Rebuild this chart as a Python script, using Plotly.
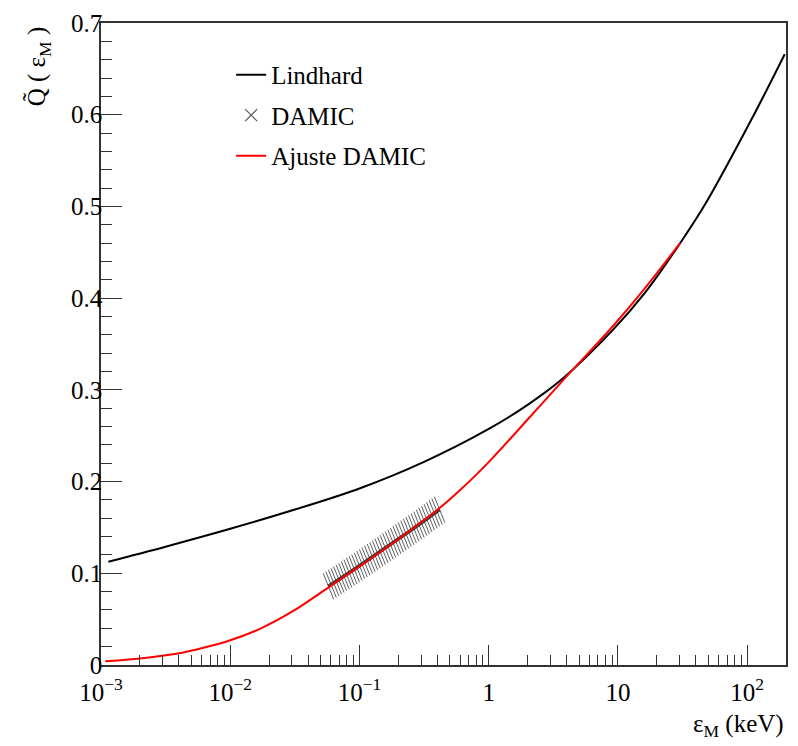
import plotly.graph_objects as go

# Lindhard curve
lind_E = [0.00114, 0.00316, 0.0100, 0.0316, 0.100, 0.316, 1.00, 2.04, 3.68,
          8.95, 16.2, 29.3, 47.1, 108.0, 195.0]
lind_Q = [0.1126, 0.1290, 0.1485, 0.1695, 0.1925, 0.2215, 0.2574, 0.2845, 0.3115,
          0.364, 0.406, 0.457, 0.502, 0.595, 0.666]

# DAMIC points
damic_E = [0.0575, 0.0603, 0.0631, 0.0661, 0.0692, 0.0724, 0.0759, 0.0794, 0.0832, 0.0871,
           0.0912, 0.0955, 0.1000, 0.1047, 0.1096, 0.1148, 0.1202, 0.1259, 0.1318, 0.1380,
           0.1445, 0.1514, 0.1585, 0.1660, 0.1738, 0.1820, 0.1905, 0.1995, 0.2089, 0.2188,
           0.2291, 0.2399, 0.2512, 0.2630, 0.2754, 0.2884, 0.3020, 0.3162, 0.3311, 0.3467,
           0.3631, 0.3802, 0.3981, 0.4169]
damic_Q = [0.0858, 0.0876, 0.0895, 0.0913, 0.0932, 0.0951, 0.0969, 0.0988, 0.1007, 0.1025,
           0.1044, 0.1063, 0.1082, 0.1101, 0.1120, 0.1139, 0.1159, 0.1178, 0.1197, 0.1216,
           0.1236, 0.1255, 0.1274, 0.1294, 0.1313, 0.1333, 0.1353, 0.1372, 0.1392, 0.1412,
           0.1432, 0.1452, 0.1471, 0.1491, 0.1511, 0.1531, 0.1551, 0.1572, 0.1592, 0.1612,
           0.1632, 0.1653, 0.1673, 0.1694]

# Ajuste DAMIC (fit)
fit_E = [0.00108, 0.00217, 0.00392, 0.00631, 0.0100, 0.0173, 0.0312, 0.0547, 0.100, 0.158,
         0.251, 0.334, 0.398, 0.476, 0.604, 0.794, 1.06, 2.04, 3.68, 8.95, 16.2, 30.2]
fit_Q = [0.004, 0.0077, 0.0125, 0.019, 0.027, 0.040, 0.0595, 0.0825, 0.1075, 0.127,
         0.1475, 0.1605, 0.169, 0.178, 0.191, 0.207, 0.225, 0.269, 0.309, 0.368, 0.411, 0.460]

x_tickvals = [1e-3, 1e-2, 1e-1, 1, 10, 100]
x_ticktext = ["10<sup>−3</sup>", "10<sup>−2</sup>", "10<sup>−1</sup>", "1", "10", "10<sup>2</sup>"]
y_tickvals = [0, 0.1, 0.2, 0.3, 0.4, 0.5, 0.6, 0.7]
y_ticktext = ["0", "0.1", "0.2", "0.3", "0.4", "0.5", "0.6", "0.7"]
x_minor = [m * 10.0 ** d for d in range(-3, 3) for m in range(2, 10) if m * 10.0 ** d <= 200]

FONT = "Liberation Serif"
FS = 25
HATCH = "rgba(40,40,40,0.75)"

fig = go.Figure()
fig.add_trace(go.Scatter(x=lind_E, y=lind_Q, mode="lines", name="Lindhard",
                         line=dict(color="black", width=2, shape="spline", smoothing=1.0),
                         legendgroup="a"))
# legend entry for DAMIC (no data marks)
fig.add_trace(go.Scatter(x=[None], y=[None], mode="markers", name="DAMIC",
                         marker=dict(symbol="x-thin", size=12, color="#555",
                                     line=dict(width=1.2, color="#555")),
                         legendgroup="b"))
# DAMIC data points
fig.add_trace(go.Scatter(x=damic_E, y=damic_Q, mode="lines", showlegend=False,
                         line=dict(color="rgba(20,20,20,0.8)", width=3.5),
                         legendgroup="b", hoverinfo="skip"))
fig.add_trace(go.Scatter(x=damic_E, y=damic_Q, mode="markers", name="DAMIC",
                         showlegend=False,
                         marker=dict(symbol="line-ns", size=20, angle=-22, color=HATCH,
                                     line=dict(width=1, color=HATCH)),
                         legendgroup="b"))
fig.add_trace(go.Scatter(x=fit_E, y=fit_Q, mode="lines", name="Ajuste DAMIC",
                         line=dict(color="red", width=2, shape="spline", smoothing=1.0),
                         legendgroup="c"))

fig.update_layout(
    width=798, height=746,
    margin=dict(l=101, r=10, t=15, b=81),
    paper_bgcolor="white", plot_bgcolor="white",
    font=dict(family=FONT, size=FS, color="black"),
    showlegend=True,
    legend=dict(x=0.19, y=0.955, xanchor="left", yanchor="top",
                bgcolor="rgba(0,0,0,0)", font=dict(family=FONT, size=FS),
                tracegroupgap=5),
)
fig.update_xaxes(
    type="log", range=[-3, 2.3],
    tickvals=x_tickvals, ticktext=x_ticktext,
    ticks="inside", ticklen=20, tickcolor="#333", tickwidth=1,
    minor=dict(tickvals=x_minor, ticks="inside", ticklen=10, tickcolor="#333"),
    showgrid=False, zeroline=False,
    showline=True, linecolor="#333", linewidth=1.5, mirror=True,
    tickfont=dict(family=FONT, size=FS), ticklabelstandoff=4,
)
fig.update_yaxes(
    range=[0, 0.7], tickvals=y_tickvals, ticktext=y_ticktext,
    ticks="inside", ticklen=21, tickcolor="#333", tickwidth=1,
    minor=dict(dtick=0.02, ticks="inside", ticklen=11, tickcolor="#333"),
    showgrid=False, zeroline=False,
    showline=True, linecolor="#333", linewidth=1.5, mirror=True,
    tickfont=dict(family=FONT, size=FS), ticklabelstandoff=-8,
)

fig.add_annotation(text="Q\u0303 ( ε<sub>M</sub> )", xref="paper", yref="paper",
                   x=-0.09, y=0.9985, xanchor="center", yanchor="top",
                   textangle=-90, showarrow=False, font=dict(family=FONT, size=FS))
fig.add_annotation(text="ε<sub>M</sub> (keV)", xref="paper", yref="paper",
                   x=1.0, y=-0.067, xanchor="right", yanchor="top",
                   showarrow=False, font=dict(family=FONT, size=FS))

fig.write_html("out.html")
